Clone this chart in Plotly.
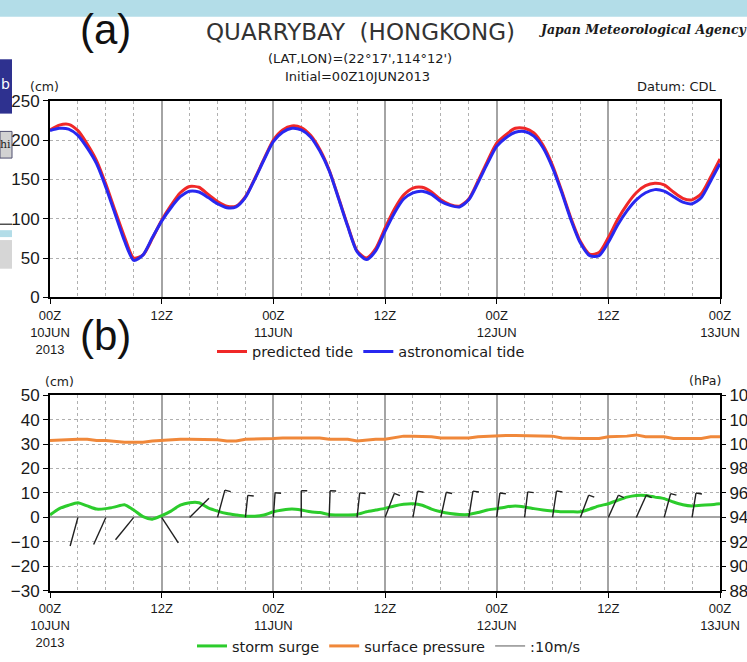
import math
import plotly.graph_objects as go

# ---------------- data (hourly, 00Z 10JUN2013 .. 00Z 13JUN2013) ----------------
hours = list(range(73))

astronomical_tide = [212, 215, 214, 206, 190, 170, 140, 106, 72, 47,
                     54, 76, 97, 114, 128, 135, 134, 127, 119, 114,
                     115, 127, 150, 175, 198, 210, 215, 213, 204, 186,
                     161, 126, 90, 58, 48, 59, 84, 107, 125, 133,
                     135, 131, 122, 117, 115, 124, 146, 170, 192, 203,
                     210, 211, 205, 190, 165, 133, 98, 69, 53, 53,
                     70, 92, 110, 124, 133, 137, 135, 128, 121, 119,
                     127, 148, 170]

predicted_tide = [213, 219, 220, 212, 195, 174, 144, 110, 77, 50,
                  54, 75, 98, 117, 133, 141, 140, 131, 122, 116,
                  116, 128, 151, 176, 200, 213, 218, 216, 206, 188,
                  162, 127, 91, 59, 50, 62, 88, 112, 130, 139,
                  140, 134, 124, 118, 116, 125, 148, 173, 196, 207,
                  215, 215, 209, 193, 168, 135, 100, 71, 55, 57,
                  76, 99, 118, 133, 142, 145, 143, 134, 126, 124,
                  132, 153, 176]

storm_surge = [1.0, 3.6, 5.0, 6.0, 4.7, 3.4, 3.6, 4.3, 5.2, 3.0,
               0.3, -0.7, 0.7, 2.6, 5.0, 6.0, 6.0, 3.9, 2.6, 1.6,
               1.0, 0.5, 0.5, 1.0, 2.3, 3.0, 3.4, 3.0, 2.3, 2.0,
               1.2, 1.0, 1.0, 1.2, 2.3, 3.0, 3.7, 4.7, 5.4, 5.6,
               5.0, 3.4, 2.3, 1.6, 1.2, 1.2, 2.0, 3.0, 3.6, 4.3,
               4.7, 4.3, 3.6, 3.0, 2.6, 2.3, 2.3, 2.3, 3.4, 4.7,
               5.6, 7.0, 8.3, 9.0, 9.0, 8.3, 7.7, 6.3, 5.2, 4.7,
               5.0, 5.2, 5.6]

surface_pressure = [1003.0, 1003.5, 1004.0, 1004.0, 1004.0, 1003.0, 1003.0, 1002.0, 1001.5, 1001.5,
                    1001.5, 1002.5, 1003.0, 1004.0, 1004.0, 1004.0, 1004.0, 1004.0, 1003.5, 1002.5,
                    1002.5, 1004.0, 1004.0, 1004.0, 1004.5, 1005.0, 1005.0, 1005.0, 1005.0, 1005.0,
                    1004.0, 1004.0, 1004.0, 1002.5, 1003.5, 1004.0, 1004.0, 1005.0, 1006.5, 1006.5,
                    1006.5, 1006.0, 1005.0, 1005.0, 1005.0, 1005.0, 1006.0, 1006.5, 1007.0, 1007.0,
                    1007.0, 1007.0, 1007.0, 1006.5, 1006.5, 1005.0, 1004.5, 1004.5, 1004.5, 1004.5,
                    1006.0, 1006.0, 1006.5, 1007.5, 1006.0, 1006.0, 1006.0, 1004.5, 1004.5, 1004.5,
                    1004.5, 1006.0, 1006.0]

wind_hours = list(range(3, 70, 3))
wind_dir = [195, 204, 219, 147, 45, 15, 6, 4, 0, 2, 6, 21,
            10, 12, 9, 7.5, 7, 8.5, 20, 24, 24, 15, 9]           # degrees (from north, clockwise)
wind_speed = [15.0, 15.0, 14.5, 15.3, 13.7, 14.3, 11.2, 12.5, 13.5, 13.5, 12.5, 13.0,
              13.5, 13.0, 13.5, 12.5, 13.0, 13.5, 12.0, 12.3, 12.3, 12.5, 12.5]  # m/s
wind_feather = [False, False, False, False, False, True, True, True, True, True, True, True,
                True, True, True, True, True, True, True, True, True, True, True]

tick_hours = [0, 12, 24, 36, 48, 60, 72]
tick_labels = ["00Z<br>10JUN<br>2013", "12Z", "00Z<br>11JUN", "12Z",
               "00Z<br>12JUN", "12Z", "00Z<br>13JUN"]
pressure_ticks = list(range(880, 1041, 20))
# right-hand pressure labels as they appear (cut by the image edge in the reference)
pressure_ticktext = ["88", "90", "92", "94", "96", "98", "10", "10", "10"]

# ---------------- layout geometry (pixels) ----------------
W, H = 747, 662
X0, X1 = 50, 720
TOP_Y0, TOP_Y1 = 102, 301
BOT_Y0, BOT_Y1 = 400, 598


def fx(p):
    return p / W


def fy(p):
    return 1 - p / H


FONT = "DejaVu Sans, sans-serif"
TICKFONT = "Liberation Sans, Arial, sans-serif"
TXT = "#1a1a1a"
GRID = "#b0b0b0"
MAJOR = "#a4a4a4"

fig = go.Figure()

# top panel
fig.add_trace(go.Scatter(x=hours, y=predicted_tide, mode="lines", name="predicted tide",
                         line=dict(color="#f02828", width=3, shape="spline", smoothing=0.7),
                         xaxis="x", yaxis="y", legend="legend"))
fig.add_trace(go.Scatter(x=hours, y=astronomical_tide, mode="lines", name="astronomical tide",
                         line=dict(color="#2828f0", width=3, shape="spline", smoothing=0.7),
                         xaxis="x", yaxis="y", legend="legend"))

# bottom panel
fig.add_trace(go.Scatter(x=hours, y=storm_surge, mode="lines", name="storm surge",
                         line=dict(color="#2ccc2c", width=3, shape="spline", smoothing=0.6),
                         xaxis="x2", yaxis="y2", legend="legend2"))
fig.add_trace(go.Scatter(x=hours, y=surface_pressure, mode="lines", name="surface pressure",
                         line=dict(color="#f0883a", width=3), xaxis="x2", yaxis="y3",
                         legend="legend2"))

# wind barbs, converted from direction / speed into data units
px_per_hour = (X1 - X0) / 72
px_per_cm = (BOT_Y1 - BOT_Y0) / 80
PX_PER_MS = 2.0
FEATHER_PX = 6
bx, by = [], []
for h, d, s, f in zip(wind_hours, wind_dir, wind_speed, wind_feather):
    L = s * PX_PER_MS
    th = math.radians(d)
    tx = h + L * math.sin(th) / px_per_hour
    ty = L * math.cos(th) / px_per_cm
    bx += [h, tx, None]
    by += [0, ty, None]
    if f:
        th2 = th + math.pi / 2
        bx += [tx, tx + FEATHER_PX * math.sin(th2) / px_per_hour, None]
        by += [ty, ty + FEATHER_PX * math.cos(th2) / px_per_cm, None]
fig.add_trace(go.Scatter(x=bx, y=by, mode="lines", line=dict(color="#202020", width=1.4),
                         xaxis="x2", yaxis="y2", showlegend=False, hoverinfo="skip"))
fig.add_trace(go.Scatter(x=[None], y=[None], mode="lines", name=":10m/s",
                         line=dict(color="#909090", width=1.5), xaxis="x2", yaxis="y2",
                         legend="legend2"))

xcommon = dict(range=[0, 72], tickvals=tick_hours, ticktext=tick_labels,
               showgrid=True, gridcolor=MAJOR, gridwidth=2,
               minor=dict(dtick=3, tick0=0, showgrid=True, gridcolor=GRID,
                          griddash="3px,3px", gridwidth=1),
               ticks="outside", ticklen=5, tickcolor="black",
               showline=True, linecolor="black", linewidth=2, mirror=True,
               zeroline=False, automargin=False,
               tickfont=dict(family=TICKFONT, size=13, color=TXT), fixedrange=True)
ycommon = dict(showgrid=True, gridcolor=GRID, griddash="3px,3px", gridwidth=1,
               ticks="outside", ticklen=5, tickcolor="black",
               showline=True, linecolor="black", linewidth=2, mirror=True,
               automargin=False, tickfont=dict(family=TICKFONT, size=17, color=TXT),
               fixedrange=True)

fig.update_layout(
    width=W, height=H, autosize=False,
    margin=dict(l=0, r=0, t=0, b=0),
    paper_bgcolor="white", plot_bgcolor="white",
    font=dict(family=FONT, color=TXT),
    xaxis=dict(xcommon, domain=[fx(X0), fx(X1)], anchor="y"),
    yaxis=dict(ycommon, domain=[fy(TOP_Y1), fy(TOP_Y0)], range=[0, 250], dtick=50,
               zeroline=False, anchor="x"),
    xaxis2=dict(xcommon, domain=[fx(X0), fx(X1)], anchor="y2"),
    yaxis2=dict(ycommon, domain=[fy(BOT_Y1), fy(BOT_Y0)], range=[-30, 50], dtick=10,
                zeroline=True, zerolinecolor=MAJOR, zerolinewidth=2, anchor="x2"),
    yaxis3=dict(overlaying="y2", side="right", anchor="x2", range=[880, 1040],
                tickvals=pressure_ticks, ticktext=pressure_ticktext,
                showgrid=False, zeroline=False, showline=False,
                ticks="outside", ticklen=5, tickcolor="black", automargin=False,
                tickfont=dict(family=TICKFONT, size=17, color=TXT), fixedrange=True),
    legend=dict(x=fx(212), y=fy(356), xanchor="left", yanchor="middle",
                orientation="h", bgcolor="rgba(0,0,0,0)", itemwidth=30,
                font=dict(family=FONT, size=14.5, color=TXT)),
    legend2=dict(x=fx(192), y=fy(654), xanchor="left", yanchor="middle",
                 orientation="h", bgcolor="rgba(0,0,0,0)", itemwidth=30,
                 font=dict(family=FONT, size=14.5, color=TXT)),
    showlegend=True,
)

# screenshot framing decorations
shapes = [
    dict(type="rect", xref="paper", yref="paper", x0=0, x1=1, y0=fy(17), y1=1,
         fillcolor="#b3dde8", line=dict(width=0), layer="below"),
    dict(type="rect", xref="paper", yref="paper", x0=0, x1=fx(12), y0=fy(115), y1=fy(60),
         fillcolor="#2e318f", line=dict(width=0), layer="below"),
    dict(type="rect", xref="paper", yref="paper", x0=0, x1=fx(12), y0=fy(160), y1=fy(133),
         fillcolor="#d2d2d2", line=dict(color="#505070", width=1), layer="below"),
    dict(type="line", xref="paper", yref="paper", x0=0, x1=fx(12), y0=fy(227), y1=fy(227),
         line=dict(color="#505050", width=1.5), layer="below"),
    dict(type="rect", xref="paper", yref="paper", x0=0, x1=fx(12), y0=fy(240), y1=fy(233),
         fillcolor="#b3dde8", line=dict(width=0), layer="below"),
    dict(type="rect", xref="paper", yref="paper", x0=0, x1=fx(12), y0=fy(272), y1=fy(243),
         fillcolor="#d6d6d6", line=dict(width=0), layer="below"),
]
fig.update_layout(shapes=shapes)


def ann(text, x, y, size, xanchor="center", family=FONT, color=TXT, **kw):
    fig.add_annotation(text=text, x=fx(x), y=fy(y), xref="paper", yref="paper",
                       xanchor=xanchor, yanchor="middle", showarrow=False,
                       font=dict(family=family, size=size, color=color), **kw)


ann("(a)", 105, 30, 42, color="#111111", family=TICKFONT)
ann("(b)", 105, 340, 42, color="#111111", family=TICKFONT)
ann("QUARRYBAY  (HONGKONG)", 360, 32, 23, color="#333333")
ann("<b><i>Japan Meteorological Agency</i></b>", 537, 30, 12.5, xanchor="left",
    family="DejaVu Serif, serif")
ann("(LAT,LON)=(22°17',114°12')", 360, 59, 13)
ann("Initial=00Z10JUN2013", 357, 77, 13)
ann("(cm)", 28, 88, 12.5, xanchor="left")
ann("Datum: CDL", 719, 88, 13, xanchor="right")
ann("b", 6, 85, 14, color="white")
ann("hi", 5, 146, 11, family="DejaVu Serif, serif")
ann("(cm)", 43, 386, 12.5, xanchor="left")
ann("(hPa)", 723, 385, 12.5, xanchor="right")

fig.write_html("out.html", config={"displayModeBar": False},
               post_script="document.body.style.margin='0';")
